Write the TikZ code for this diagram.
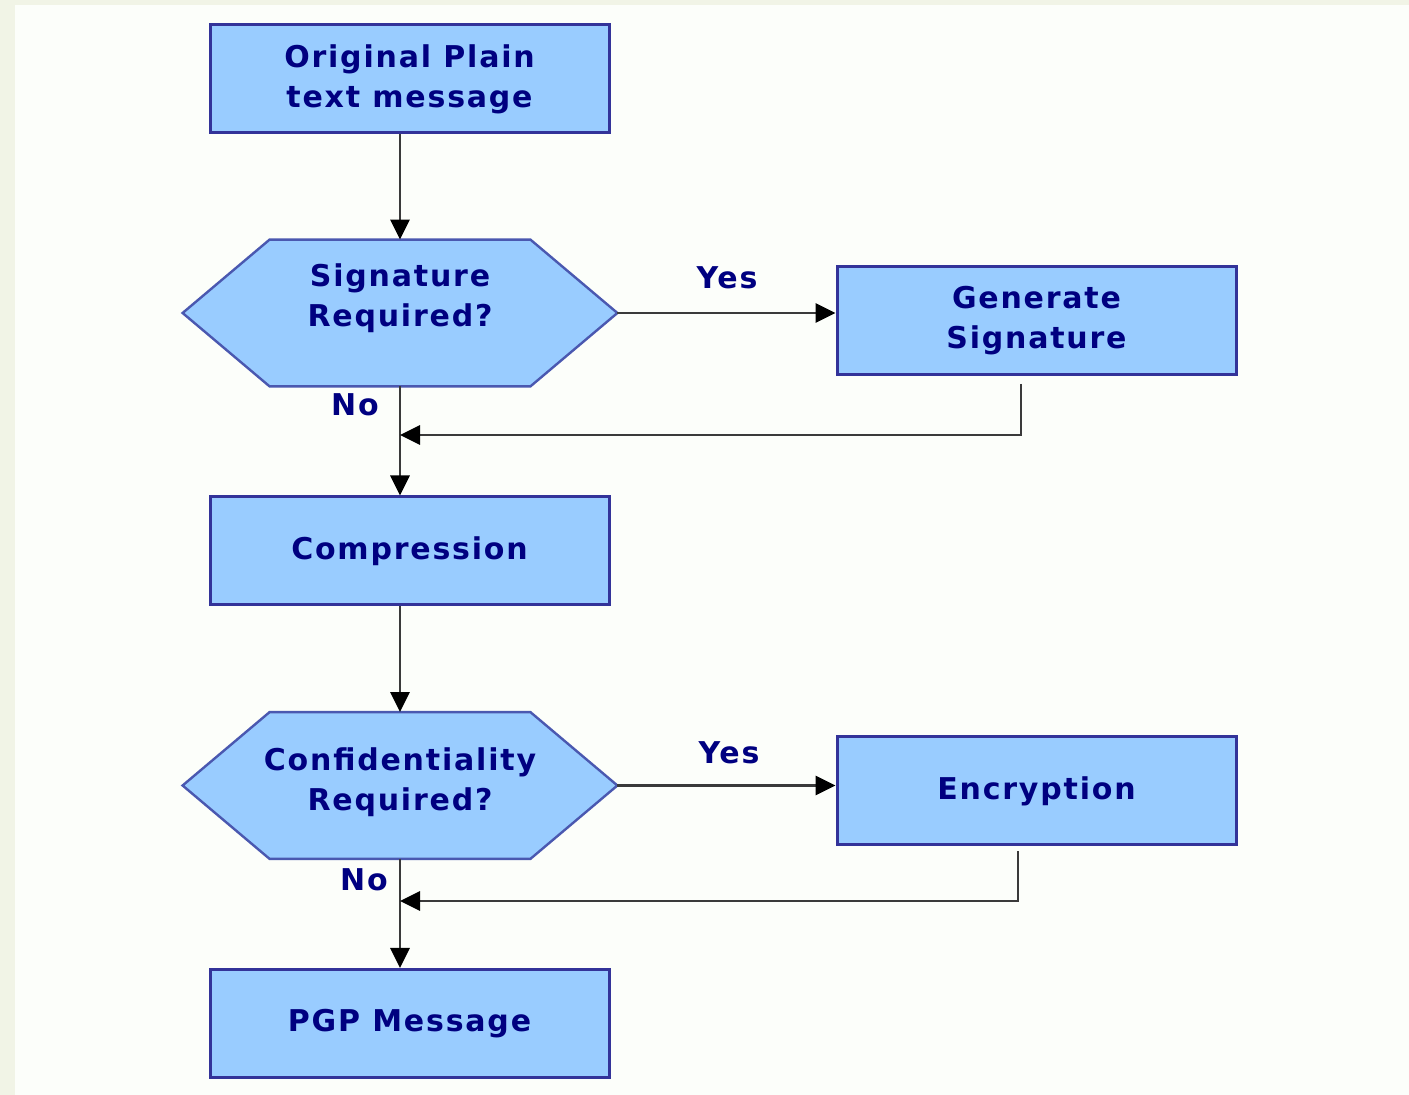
\documentclass[tikz,border=0pt]{standalone}
\usepackage{fontspec}
\setmainfont{DejaVu Sans}[LetterSpace=6]
\usetikzlibrary{arrows.meta,calc,positioning}
\definecolor{boxfill}{HTML}{99CCFF}
\definecolor{boxline}{HTML}{333399}
\definecolor{hexline}{HTML}{4A58B0}
\definecolor{navytext}{HTML}{000080}
\definecolor{wire}{HTML}{3A3A3A}
\definecolor{pagebg}{HTML}{FCFEFA}
\definecolor{edgebg}{HTML}{F1F4E6}

\begin{document}
\begin{tikzpicture}[x=0.5pt,y=-0.5pt,
  font=\bfseries\fontsize{15}{20}\selectfont, text=navytext,
  box/.style={draw=boxline,line width=1.5pt,fill=boxfill,align=center,
              minimum width=199.5pt,minimum height=54pt,inner sep=0pt},
  hexspot/.style={minimum width=217pt,minimum height=73pt,inner sep=0pt},
  hexshape/.style={draw=hexline,line width=1.2pt,fill=boxfill},
  hextext/.style={align=center,inner sep=0pt},
  flow/.style={-{Triangle[length=10pt,width=9.5pt,color=black]},draw=wire,line width=1.4pt},
  answer/.style={inner sep=0pt}
]
% Coordinates are pixels of the 1409 x 1095 page, y pointing down.
\fill[edgebg] (0,0) rectangle (1409,1095);
\fill[pagebg] (15,5) rectangle (1409,1095);
\path[use as bounding box] (0,0) rectangle (1409,1095);

\node[box] (orig) at (409.5,79) {Original Plain\\text message};
\node[hexspot] (sig) at (400,313) {};
\node[box] (gen) at (1036.5,320.5) {Generate\\Signature};
\node[box] (comp) at (409.5,551) {Compression};
\node[hexspot] (conf) at (400,785.5) {};
\node[box] (enc) at (1036.5,791) {Encryption};
\node[box] (pgp) at (409.5,1023.5) {PGP Message};

% decision hexagons
\foreach \h in {sig,conf}{
  \draw[hexshape] (\h.west) -- ([xshift=43.5pt]\h.north west) -- ([xshift=-43.5pt]\h.north east)
    -- (\h.east) -- ([xshift=-43.5pt]\h.south east) -- ([xshift=43.5pt]\h.south west) -- cycle;
}
\node[hextext] (sigtext) at ([yshift=7.5pt]sig.center) {Signature\\Required?};
\node[hextext] (conftext) at ([yshift=1.5pt]conf.center) {Confidentiality\\Required?};

% main flow
\draw[flow] (sig.north |- orig.south) -- (sig.north);
\draw[flow] (sig.east) -- (sig.east -| gen.west);
\draw[flow] (sig.south) -- (sig.south |- comp.north);
\draw[flow] (conf.north |- comp.south) -- (conf.north);
\draw[flow] (conf.east) -- (conf.east -| enc.west);
\draw[flow] (conf.south) -- (conf.south |- pgp.north);

% returns into the main line
\coordinate (sigback) at (400,435);
\coordinate (confback) at (400,901);
\draw[flow] ([xshift=-7.75pt,yshift=-4pt]gen.south) |- (sigback);
\draw[flow] ([xshift=-9.25pt,yshift=-2.5pt]enc.south) |- (confback);

\node[answer] (sigyes) at (727,278) {Yes};
\node[answer] (signo) at (355,405) {No};
\node[answer] (confyes) at (729,753) {Yes};
\node[answer] (confno) at (364,880) {No};
\end{tikzpicture}
\end{document}
